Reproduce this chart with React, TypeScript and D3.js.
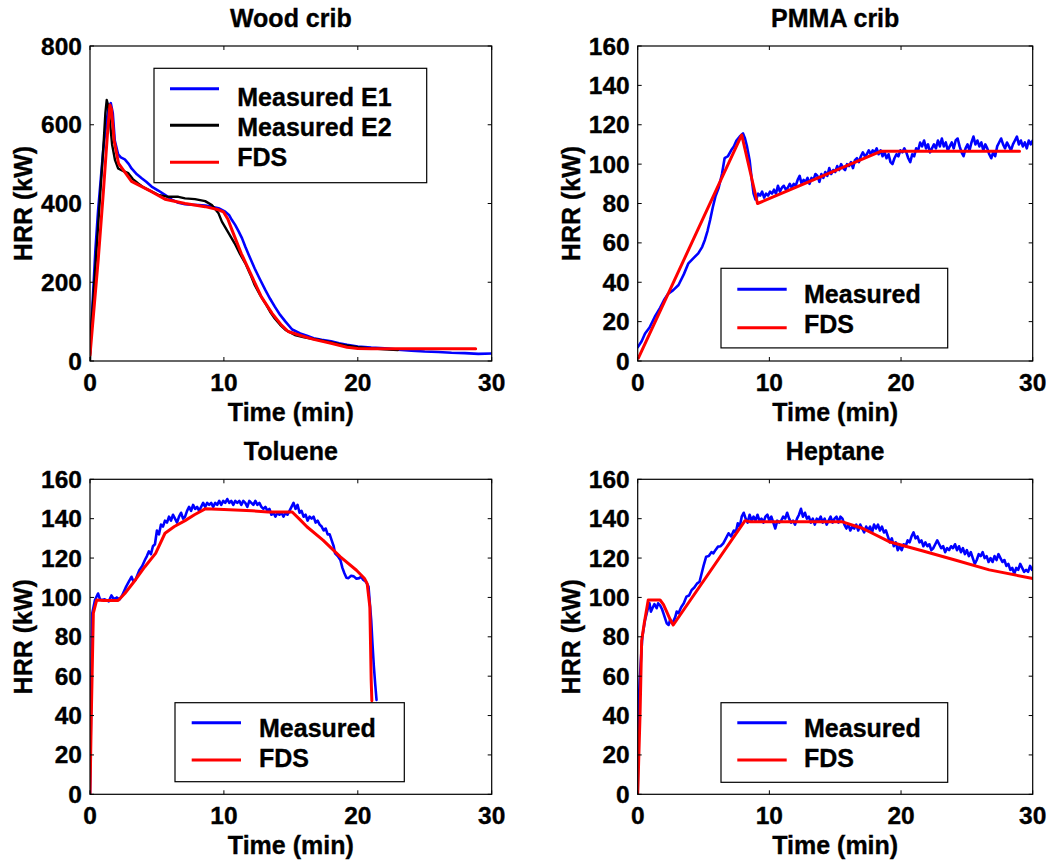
import React from "react";
import * as d3 from "d3";

type Pt = [number, number];

// ---------- Data ----------
const woodE1: Pt[] = [[0,20],[0.2,150],[0.4,280],[0.6,380],[0.8,460],[1.0,540],[1.2,600],[1.4,645],[1.55,655],[1.7,630],[1.85,560],[2.1,525],[2.3,517],[2.6,512],[2.9,500],[3.1,489],[3.5,474],[3.86,464],[4.2,455],[4.6,443],[5.1,433],[5.6,422],[6.1,410],[6.6,402],[7.1,398],[7.6,397],[8.1,396],[8.6,395],[9.1,392],[9.6,388],[10.1,379],[10.4,370],[10.6,358],[10.85,345],[11.1,329],[11.35,312],[11.6,290],[11.95,262],[12.3,235],[12.7,207],[13.1,180],[13.45,158],[13.8,138],[14.2,117],[14.6,100],[15.1,80],[15.7,70],[16.2,64],[16.7,58],[17.3,54],[18,50],[18.6,45],[19.2,41],[20,37],[21,34],[22,32],[23,29],[24,26],[25,24],[26,23],[27,21],[28,20],[29,18],[30,19]];
const woodE2: Pt[] = [[0,0],[0.05,60],[0.37,223],[0.75,417],[1.0,544],[1.15,630],[1.25,663],[1.35,650],[1.5,604],[1.65,550],[1.87,510],[2.1,489],[2.5,482],[2.86,477],[3.2,462],[3.6,451],[4.0,441],[4.4,434],[5.1,422],[5.85,417],[6.6,417],[7.1,413],[7.84,411],[8.6,406],[9.1,396],[9.6,375],[9.85,354],[10.3,328],[10.8,299],[11.2,272],[11.6,248],[12.0,218],[12.3,193],[12.7,168],[13.1,146],[13.45,125],[13.8,108],[14.2,92],[14.6,79],[15.3,66],[16,60],[17,54],[18,47],[19,40],[20,35],[21,32],[22,30],[23,28]];
const woodFDS: Pt[] = [[0,15],[0.62,260],[1.0,430],[1.3,575],[1.49,650],[1.6,640],[1.8,560],[2.13,502],[3.1,456],[4.6,430],[5.6,411],[7.1,400],[8.6,392],[9.6,384],[9.96,379],[10.3,360],[10.6,333],[11.3,273],[12.1,214],[12.8,163],[13.6,121],[14.3,91],[14.8,75],[15.6,66],[16.7,55],[18,45],[19.2,35],[20,32],[21,31],[28.8,31]];

const pmmaMeasured: Pt[] = [[0,7],[0.3,10],[0.56,14],[0.9,17],[1.3,22.5],[1.7,27],[2.0,31],[2.3,34],[2.7,36],[3.1,38.6],[3.5,44],[3.85,49.6],[4.2,52],[4.6,54.7],[4.9,58],[5.1,61.5],[5.3,66],[5.5,71.6],[5.7,78],[5.9,83.5],[6.15,88],[6.4,95],[6.6,103],[6.85,104],[7.1,107],[7.3,109],[7.5,112],[7.75,114],[8.0,115.6],[8.15,113],[8.3,109],[8.5,102],[8.65,93],[8.8,85],[8.95,82],
  [9.0,82],[9.15,85],[9.3,84],[9.45,86],[9.6,83],[9.75,85],[9.9,84],[10.05,86],[10.2,85],[10.35,87],[10.5,85],[10.65,89],[10.8,86],[10.95,88],[11.1,89],[11.25,87],[11.4,88],[11.55,90],[11.7,88],[11.85,90],[12.0,89],[12.15,92],[12.3,94],[12.45,90],[12.6,92],[12.75,91],[12.9,93],[13.05,90],[13.2,93],[13.35,92],[13.5,95],[13.65,94],[13.8,91],[13.95,95],[14.1,93],[14.25,96],[14.4,94],[14.55,98],[14.7,95],[14.85,97],[15.0,96],[15.15,99],[15.3,97],[15.45,100],[15.6,98],[15.75,97],[15.9,100],[16.05,99],[16.2,101],[16.35,98],[16.5,102],[16.65,103],[16.8,101],[16.95,104],[17.1,106],[17.25,104],[17.4,105],[17.55,107],[17.7,105],[17.85,107],[18.0,106],[18.15,108],[18.3,105],[18.45,107],[18.6,104],[18.75,106],[18.9,103],[19.05,105],[19.2,101],[19.35,100],[19.5,103],[19.65,105],[19.8,104],[19.95,107],[20.1,106],[20.25,108],[20.4,106],[20.55,103],[20.7,101],[20.85,105],[21.0,104],[21.15,108],[21.3,107],[21.45,111],[21.6,109],[21.75,112],[21.9,108],[22.05,110],[22.2,106],[22.35,108],[22.5,110],[22.65,108],[22.8,112],[22.95,109],[23.1,113],[23.25,109],[23.4,111],[23.55,107],[23.7,109],[23.85,111],[24.0,108],[24.15,112],[24.3,113],[24.45,109],[24.6,106],[24.75,104],[24.9,108],[25.05,110],[25.2,107],[25.35,111],[25.5,114],[25.65,110],[25.8,112],[25.95,109],[26.1,111],[26.25,107],[26.4,110],[26.55,108],[26.7,105],[26.85,103],[27.0,106],[27.15,104],[27.3,109],[27.45,111],[27.6,113],[27.75,110],[27.9,108],[28.05,111],[28.2,109],[28.35,107],[28.5,110],[28.65,112],[28.8,114],[28.95,110],[29.1,112],[29.25,109],[29.4,111],[29.55,108],[29.7,112],[29.85,110],[30.0,112]];
const pmmaFDS: Pt[] = [[0.05,1.5],[7.9,114.8],[9.1,80],[18.5,106.6],[29,106.6]];

const tolMeasured: Pt[] = [[0,0],[0.08,45],[0.17,92],[0.37,98.7],[0.6,102],[0.75,99],[0.87,98.7],[1.1,99],[1.4,98],[1.6,101],[1.8,99],[2.0,100],[2.2,99],[2.4,101],[2.7,105.5],[2.9,108],[3.1,110.5],[3.25,108],[3.4,109],[3.7,114],[3.9,116],[4.1,119],[4.25,121],[4.4,123.4],[4.55,122],[4.7,126],[4.85,127],
  [5.0,134],[5.15,132],[5.3,137],[5.45,136],[5.6,139],[5.75,138],[5.9,141],[6.05,139],[6.2,142],[6.35,140],[6.5,138],[6.65,141],[6.8,143],[6.95,140],[7.1,141],[7.25,144],[7.4,146],[7.55,144],[7.7,147],[7.85,145],[8.0,146],[8.15,144],[8.3,146],[8.45,148],[8.6,146],[8.75,148],[8.9,147],[9.05,148],[9.2,146],[9.35,148],[9.5,147],[9.65,149],[9.8,147],[9.95,149],[10.1,148],[10.25,150],[10.4,148],[10.55,149],[10.7,147],[10.85,149],[11.0,148],[11.15,149],[11.3,147],[11.45,149],[11.6,148],[11.75,146],[11.9,149],[12.05,148],[12.2,147],[12.35,149],[12.5,147],[12.65,148],[12.8,146],[12.95,145],[13.1,146],[13.25,144],[13.4,145],[13.55,142],[13.7,143],[13.85,141],[14.0,143],[14.15,142],[14.3,143],[14.45,141],[14.6,143],[14.75,142],[14.9,144],[15.05,146],[15.2,148],[15.35,145],[15.5,147],[15.65,143],[15.8,144],[15.95,141],[16.1,142],[16.25,139],[16.4,141],[16.55,140],[16.7,141],[16.85,138],[17.0,139],[17.15,137],[17.3,136],[17.45,134],[17.6,135],[17.75,132],[17.9,132],[18.05,129],[18.2,126],[18.3,122.4],[18.5,121],[18.7,119],[18.85,115],[19.0,112.3],[19.15,110],[19.3,109.8],[19.5,111],[19.7,110.7],[19.9,109.5],[20.1,109.8],[20.25,110.5],[20.4,109],[20.6,108],[20.8,105.5],[20.9,97],[21.0,88.6],[21.1,76],[21.2,64.9],[21.3,56],[21.4,47.9]];
const tolFDS: Pt[] = [[0,0],[0.1,41],[0.25,92],[0.5,98.7],[1.0,98.5],[1.5,98.5],[2.1,98.4],[2.6,102],[3.4,109],[4.1,115.6],[4.9,122.4],[5.6,132.6],[6.3,136],[7.1,139],[7.8,142],[8.6,145],[10,144.6],[12.1,144],[13.3,143.4],[15.1,143.4],[15.7,139.4],[16.2,135.9],[17.4,129.1],[18.7,120.6],[19.9,113.8],[20.5,109.6],[20.7,107],[20.9,95.2],[20.95,76.6],[21.0,58],[21.05,47.5]];

const hepMeasured: Pt[] = [[0,0],[0.05,41],[0.15,58],[0.35,80],[0.56,88.6],[0.8,95],[0.9,97],[1.0,92.8],[1.15,95],[1.27,96.6],[1.44,94.5],[1.55,97],[1.7,96],[1.85,94],[1.95,92],[2.1,89],[2.2,86.9],[2.35,86],[2.46,88.6],[2.6,87],[2.7,87.7],[2.85,90],[2.96,92.8],[3.1,92],[3.3,95],[3.5,97],[3.7,100.4],[3.9,101],[4.1,103.8],[4.3,105],[4.5,107],[4.7,108],[4.86,112.3],[5.0,116],[5.2,120.7],[5.4,121],[5.6,123],[5.75,122.4],[5.9,124],[6.1,125.8],[6.3,126],[6.5,127.5],[6.7,130],[6.9,132.6],[7.1,131],[7.3,134],[7.45,133],
  [7.6,137.7],[7.75,136],[7.9,141],[8.05,143],[8.2,140],[8.35,138],[8.5,142],[8.65,139],[8.8,141],[8.95,139],[9.1,142],[9.25,139],[9.4,140],[9.55,138],[9.7,141],[9.85,142],[10.0,139],[10.15,141],[10.3,138],[10.45,135],[10.6,139],[10.75,138],[10.9,139],[11.05,141],[11.2,140],[11.35,143],[11.5,140],[11.65,138],[11.8,139],[11.95,137],[12.1,140],[12.25,142],[12.4,145],[12.55,141],[12.7,143],[12.85,140],[13.0,141],[13.15,138],[13.3,140],[13.45,137],[13.6,140],[13.75,139],[13.9,141],[14.05,138],[14.2,140],[14.35,137],[14.5,139],[14.65,141],[14.8,138],[14.95,140],[15.1,141],[15.25,138],[15.4,141],[15.55,140],[15.7,137],[15.85,135],[16.0,137],[16.15,134],[16.3,136],[16.45,135],[16.6,137],[16.75,134],[16.9,137],[17.05,135],[17.2,133],[17.35,136],[17.5,134],[17.65,136],[17.8,133],[17.95,137],[18.1,135],[18.25,137],[18.4,134],[18.55,136],[18.7,133],[18.85,134],[19.0,131],[19.15,128],[19.3,130],[19.45,126],[19.6,128],[19.75,124],[19.9,126],[20.05,124],[20.2,127],[20.35,126],[20.5,129],[20.65,128],[20.8,131],[20.95,133],[21.1,130],[21.25,131],[21.4,128],[21.55,129],[21.7,126],[21.85,128],[22.0,126],[22.15,127],[22.3,124],[22.45,125],[22.6,127],[22.75,129],[22.9,127],[23.05,125],[23.2,126],[23.35,123],[23.5,125],[23.65,124],[23.8,126],[23.95,125],[24.1,127],[24.25,124],[24.4,126],[24.55,123],[24.7,125],[24.85,122],[25.0,124],[25.15,121],[25.3,123],[25.45,120],[25.6,117],[25.75,119],[25.9,122],[26.05,121],[26.2,123],[26.35,120],[26.5,121],[26.65,118],[26.8,120],[26.95,118],[27.1,121],[27.25,119],[27.4,122],[27.55,120],[27.7,118],[27.85,119],[28.0,116],[28.15,117],[28.3,114],[28.45,115],[28.6,112],[28.75,115],[28.9,114],[29.05,117],[29.2,115],[29.35,113],[29.5,114],[29.65,113],[29.8,116],[29.95,114],[30.0,115]];
const hepFDS: Pt[] = [[0,0],[0.18,41],[0.3,78],[0.5,87],[0.8,98.7],[1.7,98.7],[1.95,96.5],[2.2,92.8],[2.45,89],[2.7,86],[8.15,139],[8.5,138.5],[15.5,138.5],[17.1,135],[19.1,128.3],[21.6,123.7],[24.1,119],[26.7,114],[30,109.6]];

const titles = ["Wood crib", "PMMA crib", "Toluene", "Heptane"];
const xTicks = [0, 10, 20, 30];
const woodYTicks = [0, 200, 400, 600, 800];
const smallYTicks = [0, 20, 40, 60, 80, 100, 120, 140, 160];
const xLabel = "Time (min)";
const yLabel = "HRR (kW)";

// ---------- Layout ----------
const FONT = "'Liberation Sans', Arial, Helvetica, sans-serif";
const FS = 25;
const FS_TICK = 24.5;
const TXT_STROKE = 0.35;
const BLUE = "#0000ff";
const RED = "#ff0000";
const BLACK = "#000000";

type Series = { name: string; color: string; width: number; data: Pt[] };
type Legend = { x: number; y: number; w: number; h: number; lineX0: number; lineX1: number; lineY: number[]; textX: number; textY: number[] };
type Panel = {
  title: string; left: number; top: number; width: number; height: number;
  yMax: number; yTicks: number[]; series: Series[]; legend: Legend;
};

const legendSmall: Legend = { x: 83.3, y: 222.8, w: 226.7, h: 79.6, lineX0: 99.6, lineX1: 149, lineY: [243.4, 281], textX: 166.3, textY: [257, 287] };

const panels: Panel[] = [
  {
    title: titles[0], left: 90, top: 46, width: 401.7, height: 315, yMax: 800, yTicks: woodYTicks,
    series: [
      { name: "Measured E1", color: BLUE, width: 2.6, data: woodE1 },
      { name: "Measured E2", color: BLACK, width: 2.4, data: woodE2 },
      { name: "FDS", color: RED, width: 3, data: woodFDS },
    ],
    legend: { x: 64, y: 22.3, w: 272.7, h: 114.4, lineX0: 80, lineX1: 129, lineY: [42.7, 79.3, 116.3], textX: 147.3, textY: [60, 90, 119.7] },
  },
  {
    title: titles[1], left: 637.7, top: 46, width: 395, height: 315, yMax: 160, yTicks: smallYTicks,
    series: [
      { name: "Measured", color: BLUE, width: 2.6, data: pmmaMeasured },
      { name: "FDS", color: RED, width: 3, data: pmmaFDS },
    ],
    legend: { ...legendSmall, y: 222.3, lineY: [243.3, 281.7], textY: [256.7, 286.7] },
  },
  {
    title: titles[2], left: 90, top: 479.3, width: 401.7, height: 315, yMax: 160, yTicks: smallYTicks,
    series: [
      { name: "Measured", color: BLUE, width: 2.6, data: tolMeasured },
      { name: "FDS", color: RED, width: 3, data: tolFDS },
    ],
    legend: { x: 85, y: 223.4, w: 229.3, h: 79, lineX0: 101.7, lineX1: 151, lineY: [243.4, 280.7], textX: 169, textY: [257.4, 287.4] },
  },
  {
    title: titles[3], left: 637.7, top: 479.3, width: 395, height: 315, yMax: 160, yTicks: smallYTicks,
    series: [
      { name: "Measured", color: BLUE, width: 2.6, data: hepMeasured },
      { name: "FDS", color: RED, width: 3, data: hepFDS },
    ],
    legend: { ...legendSmall, y: 223.4, lineY: [243.4, 280.7], textY: [257.4, 287.4] },
  },
];

const TICK = 4;

const textProps = (size: number) => ({
  fontFamily: FONT, fontWeight: "bold" as const, fontSize: size, fill: "#000", stroke: "#000", strokeWidth: TXT_STROKE,
});

function PanelView({ p, idx }: { p: Panel; idx: number }) {
  const x = d3.scaleLinear().domain([0, 30]).range([0, p.width]);
  const y = d3.scaleLinear().domain([0, p.yMax]).range([p.height, 0]);
  const line = d3.line<Pt>().x((d) => x(d[0])).y((d) => y(d[1]));
  const clipId = `clip-${idx}`;
  const L = p.legend;
  return (
    <g transform={`translate(${p.left},${p.top})`}>
      <text x={p.width / 2} y={-19} textAnchor="middle" {...textProps(FS)}>{p.title}</text>
      <defs>
        <clipPath id={clipId}><rect x={0} y={-2} width={p.width} height={p.height + 2} /></clipPath>
      </defs>
      <g clipPath={`url(#${clipId})`}>
        {p.series.map((s) => (
          <path key={s.name} d={line(s.data) || ""} fill="none" stroke={s.color} strokeWidth={s.width} strokeLinejoin="round" strokeLinecap="round" />
        ))}
      </g>
      <rect x={0} y={0} width={p.width} height={p.height} fill="none" stroke="#000" strokeWidth={1.2} />
      {xTicks.map((t) => (
        <g key={"xt" + t}>
          <line x1={x(t)} x2={x(t)} y1={p.height} y2={p.height - TICK} stroke="#000" strokeWidth={1} />
          <line x1={x(t)} x2={x(t)} y1={0} y2={TICK} stroke="#000" strokeWidth={1} />
          <text x={x(t)} y={p.height + 29.5} textAnchor="middle" {...textProps(FS_TICK)}>{t}</text>
        </g>
      ))}
      {p.yTicks.map((t) => (
        <g key={"yt" + t}>
          <line x1={0} x2={TICK} y1={y(t)} y2={y(t)} stroke="#000" strokeWidth={1} />
          <line x1={p.width} x2={p.width - TICK} y1={y(t)} y2={y(t)} stroke="#000" strokeWidth={1} />
          <text x={-8} y={y(t) + 8.5} textAnchor="end" {...textProps(FS_TICK)}>{t}</text>
        </g>
      ))}
      <text x={p.width / 2} y={p.height + 59.5} textAnchor="middle" {...textProps(FS)}>{xLabel}</text>
      <text transform={`translate(-58,${p.height / 2}) rotate(-90)`} textAnchor="middle" {...textProps(FS)}>{yLabel}</text>
      <g>
        <rect x={L.x} y={L.y} width={L.w} height={L.h} fill="#fff" stroke="#000" strokeWidth={1.2} />
        {p.series.map((s, i) => (
          <g key={"lg" + s.name}>
            <line x1={L.lineX0} x2={L.lineX1} y1={L.lineY[i]} y2={L.lineY[i]} stroke={s.color} strokeWidth={3} />
            <text x={L.textX} y={L.textY[i]} {...textProps(FS)}>{s.name}</text>
          </g>
        ))}
      </g>
    </g>
  );
}

export default function App() {
  return (
    <svg width={1060} height={861} viewBox="0 0 1060 861" style={{ position: "absolute", left: 0, top: 0, background: "#fff" }}>
      <rect x={0} y={0} width={1060} height={861} fill="#fff" />
      {panels.map((p, i) => <PanelView key={p.title} p={p} idx={i} />)}
    </svg>
  );
}
